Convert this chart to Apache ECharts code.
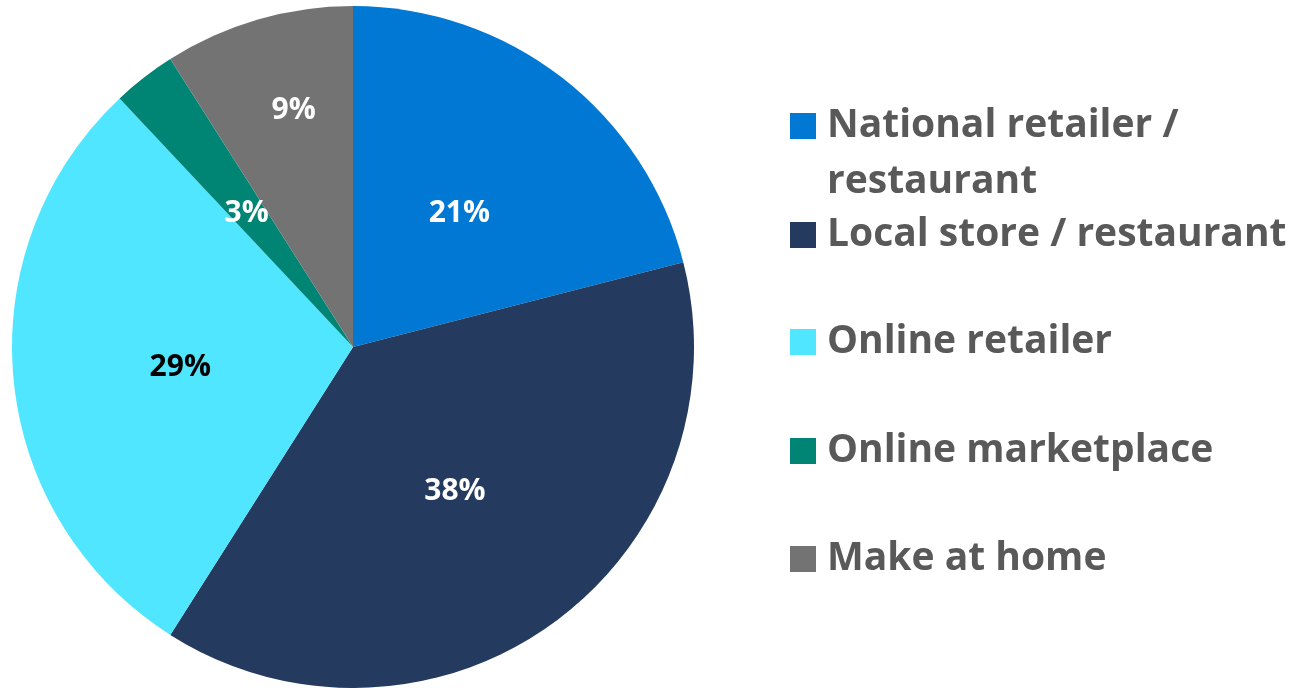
<!DOCTYPE html>
<html>
<head>
<meta charset="utf-8">
<script src="https://cdn.jsdelivr.net/npm/echarts@6/dist/echarts.min.js"></script>
<style>
html,body{margin:0;padding:0;background:#fff;}
#c{width:1297px;height:688px;}
</style>
</head>
<body>
<div id="c"></div>
<script>
var categories = ['National retailer / restaurant', 'Local store / restaurant', 'Online retailer', 'Online marketplace', 'Make at home'];
var legendLabels = ['National retailer /\nrestaurant', 'Local store / restaurant', 'Online retailer', 'Online marketplace', 'Make at home'];
var values = [21, 38, 29, 3, 9];
var colors = ['#0078D4', '#243A5E', '#50E6FF', '#008575', '#737373'];
var labelColors = ['#ffffff', '#ffffff', '#000000', '#ffffff', '#ffffff'];
var legendTops = [93, 202, 309, 418, 526];

var FONT = '"Open Sans", "Noto Sans", sans-serif';

var chart = echarts.init(document.getElementById('c'), null, {renderer: 'canvas'});

var data = categories.map(function (name, i) {
  var d = {
    name: name,
    value: values[i],
    itemStyle: {color: colors[i]},
    label: {color: labelColors[i]}
  };
  if (i === 4) { d.label.offset = [-11, -70]; }
  return d;
});

var legends = categories.map(function (name, i) {
  var twoLine = legendLabels[i].indexOf('\n') >= 0;
  return {
    orient: 'vertical',
    left: 785,
    top: legendTops[i],
    data: [name],
    icon: twoLine ? 'path://M0,0H26V26H0Z M0,82L26,82' : 'rect',
    itemWidth: 26,
    itemHeight: twoLine ? 82 : 26,
    selectedMode: false,
    formatter: function () { return legendLabels[i]; },
    itemStyle: {borderWidth: 0},
    textStyle: {
      fontFamily: FONT,
      fontWeight: 'bold',
      fontSize: 39,
      color: '#595959',
      lineHeight: 56,
      padding: [0, 0, 0, 6]
    }
  };
});

chart.setOption({
  animation: false,
  legend: legends,
  series: [{
    type: 'pie',
    center: [353, 347],
    radius: [0, 341],
    startAngle: 90,
    clockwise: true,
    avoidLabelOverlap: false,
    label: {
      show: true,
      position: 'inside',
      formatter: '{c}%',
      fontFamily: FONT,
      fontWeight: 'bold',
      fontSize: 30,
      offset: [0, 4]
    },
    labelLine: {show: false},
    emphasis: {disabled: true},
    itemStyle: {borderWidth: 0},
    data: data
  }]
});
</script>
</body>
</html>
